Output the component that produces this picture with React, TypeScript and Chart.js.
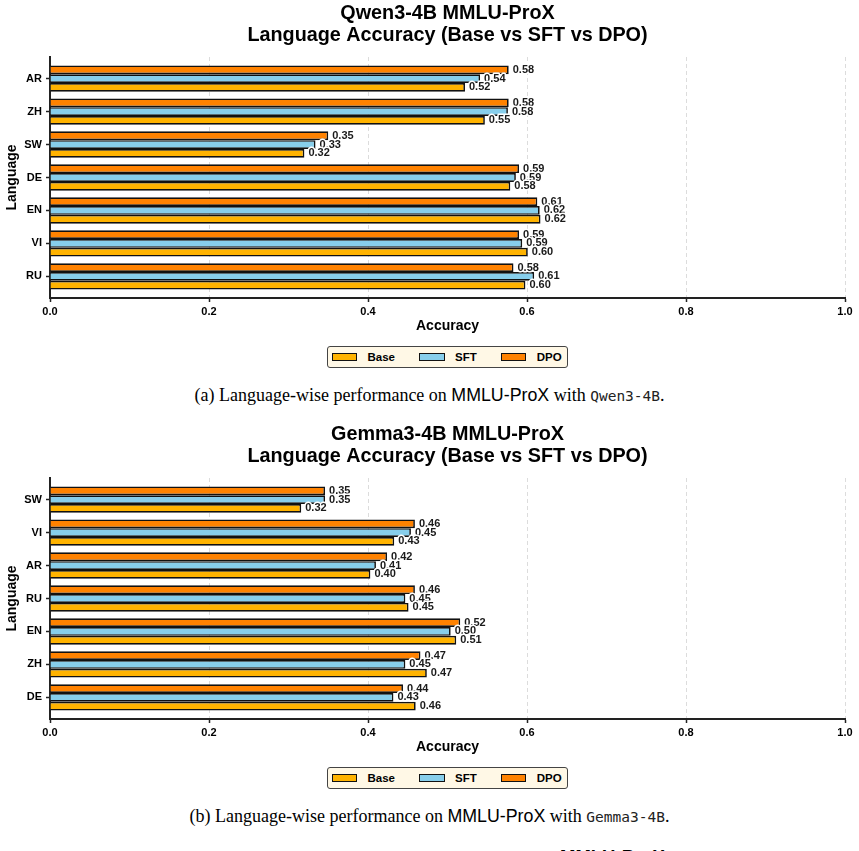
import React, { useEffect, useRef } from 'react';
import { Chart, registerables } from 'chart.js';

Chart.register(...registerables);

// ---------- data ----------
const seriesNames = ['Base', 'SFT', 'DPO'];
const seriesColors = ['#FFB300', '#87CEEB', '#FF8200'];

const qwenTitle = ['Qwen3-4B MMLU-ProX', 'Language Accuracy (Base vs SFT vs DPO)'];
const qwenLanguages = ['AR', 'ZH', 'SW', 'DE', 'EN', 'VI', 'RU'];
const qwenBase = [0.522, 0.547, 0.320, 0.579, 0.617, 0.601, 0.598];
const qwenSft = [0.541, 0.576, 0.334, 0.586, 0.616, 0.594, 0.609];
const qwenDpo = [0.577, 0.577, 0.350, 0.590, 0.613, 0.590, 0.583];

const gemmaTitle = ['Gemma3-4B MMLU-ProX', 'Language Accuracy (Base vs SFT vs DPO)'];
const gemmaLanguages = ['SW', 'VI', 'AR', 'RU', 'EN', 'ZH', 'DE'];
const gemmaBase = [0.316, 0.433, 0.403, 0.451, 0.511, 0.474, 0.460];
const gemmaSft = [0.346, 0.454, 0.410, 0.447, 0.504, 0.447, 0.432];
const gemmaDpo = [0.346, 0.459, 0.424, 0.459, 0.516, 0.466, 0.444];

const xAxisTitle = 'Accuracy';
const yAxisTitle = 'Language';

// ---------- styles ----------
const SANS = '"Liberation Sans", Arial, Helvetica, sans-serif';
const SERIF = '"Liberation Serif", "Times New Roman", serif';
const MONO = '"DejaVu Sans Mono", monospace';

const valueLabelPlugin = {
  id: 'valueLabels',
  afterDatasetsDraw(chart: any) {
    const ctx = chart.ctx;
    ctx.save();
    ctx.font = `bold 11px ${SANS}`;
    ctx.textBaseline = 'middle';
    ctx.textAlign = 'left';
    ctx.lineJoin = 'round';
    chart.data.datasets.forEach((ds: any, i: number) => {
      const meta = chart.getDatasetMeta(i);
      meta.data.forEach((el: any, j: number) => {
        const v = ds.data[j].x as number;
        const t = v.toFixed(2);
        ctx.lineWidth = 3;
        ctx.strokeStyle = '#ffffff';
        ctx.strokeText(t, el.x + 4, el.y);
        ctx.fillStyle = '#1a1a1a';
        ctx.fillText(t, el.x + 4, el.y);
      });
    });
    ctx.restore();
  },
};

function makeConfig(title: string[], languages: string[], base: number[], sft: number[], dpo: number[]): any {
  const series = [base, sft, dpo];
  const order = [2, 1, 0]; // top-to-bottom inside a group: DPO, SFT, Base
  const datasets = order.map((k) => ({
    label: seriesNames[k],
    data: series[k].map((v, i) => ({ x: v, y: i })),
    backgroundColor: seriesColors[k],
    borderColor: '#111111',
    borderWidth: 1.7,
    barPercentage: 1,
    categoryPercentage: 0.8,
  }));
  return {
    type: 'bar',
    data: { datasets },
    plugins: [valueLabelPlugin],
    options: {
      indexAxis: 'y',
      responsive: false,
      animation: false,
      layout: { padding: { left: 0, right: 14, top: 0, bottom: 0 } },
      plugins: {
        legend: { display: false },
        tooltip: { enabled: false },
        title: {
          display: true,
          text: title,
          fullSize: false,
          color: '#000',
          font: { family: SANS, size: 19.8, weight: 'bold', lineHeight: 22 / 19.8 },
          padding: { top: 3, bottom: 10 },
        },
      },
      scales: {
        x: {
          type: 'linear',
          min: 0,
          max: 1,
          afterFit: (s: any) => {
            s.height = 42;
          },
          ticks: {
            stepSize: 0.2,
            callback: (v: any) => Number(v).toFixed(1),
            color: '#000',
            padding: 3,
            font: { family: SANS, size: 11, weight: 'bold' },
          },
          grid: {
            color: '#dcdcdc',
            lineWidth: 1,
            tickLength: 4,
            tickColor: '#222',
            tickWidth: 1.5,
          },
          border: { display: true, color: '#222', width: 2, dash: [4, 3] },
          title: {
            display: true,
            text: xAxisTitle,
            color: '#000',
            font: { family: SANS, size: 14, weight: 'bold' },
            padding: { top: 0, bottom: 5 },
          },
        },
        y: {
          type: 'linear',
          reverse: true,
          offset: false,
          bounds: 'data',
          min: -0.655,
          max: 6.655,
          afterBuildTicks: (s: any) => {
            s.ticks = languages.map((_, i) => ({ value: i }));
          },
          afterFit: (s: any) => {
            s.width = 50;
          },
          ticks: {
            autoSkip: false,
            callback: (v: any) => languages[v as number],
            color: '#000',
            padding: 4,
            font: { family: SANS, size: 11, weight: 'bold' },
          },
          grid: {
            offset: false,
            drawOnChartArea: false,
            tickLength: 4,
            tickColor: '#222',
            tickWidth: 1.5,
          },
          border: { display: true, color: '#222', width: 2 },
          title: {
            display: true,
            text: yAxisTitle,
            color: '#000',
            font: { family: SANS, size: 14, weight: 'bold' },
            padding: { top: 4, bottom: 0 },
          },
        },
      },
    },
  };
}

function BarChart(props: { title: string[]; languages: string[]; base: number[]; sft: number[]; dpo: number[] }) {
  const ref = useRef<HTMLCanvasElement | null>(null);
  useEffect(() => {
    if (!ref.current) return;
    const chart = new Chart(ref.current, makeConfig(props.title, props.languages, props.base, props.sft, props.dpo));
    return () => chart.destroy();
  }, []);
  return <canvas ref={ref} width={859} height={340} style={{ position: 'absolute', left: 0, top: 0, width: 859, height: 340 }} />;
}

function Legend(props: { top: number }) {
  return (
    <div
      style={{
        position: 'absolute',
        left: 327,
        top: props.top,
        width: 241,
        height: 22,
        boxSizing: 'border-box',
        border: '1.5px solid #444',
        borderRadius: 3,
        background: '#FFF8E6',
        display: 'flex',
        alignItems: 'center',
        paddingLeft: 3.5,
        fontFamily: SANS,
        fontWeight: 'bold',
        fontSize: 11.5,
        color: '#000',
      }}
    >
      {seriesNames.map((n, k) => (
        <div key={n} style={{ display: 'flex', alignItems: 'center', marginRight: 24 }}>
          <div
            style={{
              width: 25.5,
              height: 7.5,
              boxSizing: 'border-box',
              border: '1.5px solid #111',
              background: seriesColors[k],
              marginRight: 10.5,
            }}
          />
          <span>{n}</span>
        </div>
      ))}
    </div>
  );
}

function Panel(props: {
  top: number;
  letter: string;
  model: string;
  title: string[];
  languages: string[];
  base: number[];
  sft: number[];
  dpo: number[];
}) {
  return (
    <div style={{ position: 'absolute', left: 0, top: props.top, width: 859, height: 421 }}>
      <BarChart title={props.title} languages={props.languages} base={props.base} sft={props.sft} dpo={props.dpo} />
      <Legend top={346} />
      <div
        style={{
          position: 'absolute',
          left: 0,
          top: 385,
          width: 859,
          textAlign: 'center',
          whiteSpace: 'nowrap',
          fontFamily: SERIF,
          fontSize: 18,
          lineHeight: '20px',
          color: '#000',
        }}
      >
        ({props.letter}) Language-wise performance on{' '}
        <span style={{ fontFamily: SANS, fontSize: 17.8 }}>MMLU-ProX</span> with{' '}
        <span style={{ fontFamily: MONO, fontSize: 14.5, color: '#222' }}>{props.model}</span>.
      </div>
    </div>
  );
}

export default function App() {
  return (
    <div
      style={{
        position: 'absolute',
        left: 0,
        top: 0,
        width: 859,
        height: 851,
        overflow: 'hidden',
        background: '#fff',
      }}
    >
      <Panel top={0} letter="a" model="Qwen3-4B" title={qwenTitle} languages={qwenLanguages} base={qwenBase} sft={qwenSft} dpo={qwenDpo} />
      <Panel top={421} letter="b" model="Gemma3-4B" title={gemmaTitle} languages={gemmaLanguages} base={gemmaBase} sft={gemmaSft} dpo={gemmaDpo} />
      <div
        style={{
          position: 'absolute',
          left: 560,
          top: 848.3,
          fontFamily: SANS,
          fontWeight: 'bold',
          fontSize: 18.5,
          lineHeight: 1,
          whiteSpace: 'nowrap',
          color: '#000',
        }}
      >
        MMLU-ProX
      </div>
    </div>
  );
}
